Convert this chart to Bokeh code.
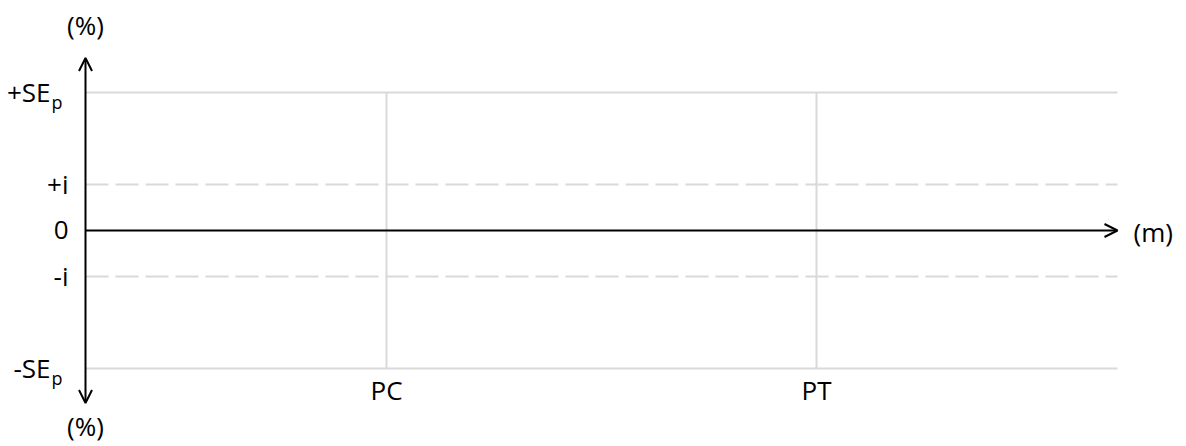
from bokeh.plotting import figure
from bokeh.models import Arrow, OpenHead, Range1d
from bokeh.core.properties import value
from bokeh.embed import file_html
from bokeh.resources import INLINE

# ---- data ----
y_levels = [3, 1, 0, -1, -3]
y_main = ["+SE", "+i", "0", "-i", "-SE"]
y_sub = ["p", "", "", "", "p"]
x_points = [3.5, 8.5]
x_labels = ["PC", "PT"]
x_end = 12.0
y_end = 3.75
se = 3
ii = 1
unit_y = "(%)"
unit_x = "(m)"

FONT = "Open Sans"
FS = "26px"
W, H = 1186, 446
# 86 px per x-unit, 46 px per y-unit
x0 = -85 / 86
x1 = (W - 85) / 86
y1 = 230 / 46
y0 = -(H - 230) / 46

p = figure(width=W, height=H, output_backend="svg", toolbar_location=None,
           x_axis_type=None, y_axis_type=None,
           x_range=Range1d(x0, x1), y_range=Range1d(y0, y1),
           min_border=0, min_border_left=0, min_border_right=0,
           min_border_top=0, min_border_bottom=0)
p.outline_line_color = None
p.grid.visible = False
p.background_fill_color = "white"
p.border_fill_color = "white"

grey = "#d9d9d9"
# solid grid at +/- SEp
p.segment(x0=[0, 0], y0=[se, -se], x1=[x_end, x_end], y1=[se, -se],
          line_color=grey, line_width=2)
# vertical lines at PC, PT
p.segment(x0=x_points, y0=[-se] * len(x_points), x1=x_points, y1=[se] * len(x_points),
          line_color=grey, line_width=2)
# dashed at +/- i
p.segment(x0=[0, 0], y0=[ii, -ii], x1=[x_end, x_end], y1=[ii, -ii],
          line_color=grey, line_width=2, line_dash="23 7")

# axes arrows
p.add_layout(Arrow(x_start=0, y_start=-y_end, x_end=0, y_end=y_end,
                   line_color="black", line_width=2,
                   start=OpenHead(size=13, line_width=2, line_color="black"),
                   end=OpenHead(size=13, line_width=2, line_color="black")))
p.add_layout(Arrow(x_start=0, y_start=0, x_end=x_end, y_end=0,
                   line_color="black", line_width=2,
                   end=OpenHead(size=13, line_width=2, line_color="black")))

# y labels
main_off = [-35 if s else -17 for s in y_sub]
p.text(x=[0] * len(y_levels), y=y_levels, text=y_main, x_offset=main_off,
       y_offset=-1,
       text_align="right", text_baseline="middle", text_color="black",
       text_font=value(FONT), text_font_size=FS)
sub_x = [0 for s in y_sub if s]
sub_y = [y for y, s in zip(y_levels, y_sub) if s]
sub_t = [s for s in y_sub if s]
p.text(x=sub_x, y=sub_y, text=sub_t, x_offset=-34, y_offset=9,
       text_align="left", text_baseline="middle", text_color="black",
       text_font=value(FONT), text_font_size="18px")

# x labels
p.text(x=x_points, y=[-se] * len(x_points), text=x_labels, y_offset=21,
       text_align="center", text_baseline="middle", text_color="black",
       text_font=value(FONT), text_font_size=FS)

# unit labels
p.text(x=[0, 0], y=[y_end, -y_end], text=[unit_y, unit_y], y_offset=[-33, 23],
       text_align="center", text_baseline="middle", text_color="black",
       text_font=value(FONT), text_font_size=FS)
p.text(x=[x_end], y=[0], text=[unit_x], x_offset=16, y_offset=1,
       text_align="left", text_baseline="middle", text_color="black",
       text_font=value(FONT), text_font_size=FS)

open("out.html", "w").write(file_html(p, INLINE))
